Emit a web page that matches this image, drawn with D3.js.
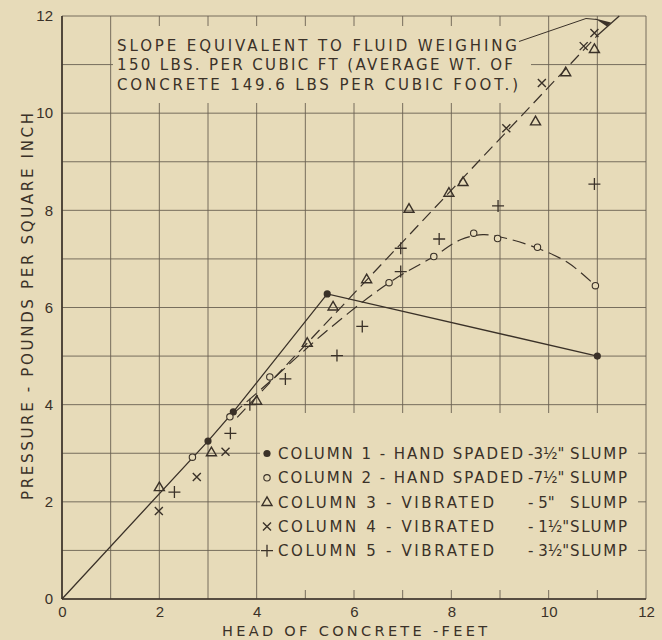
<!DOCTYPE html>
<html>
<head>
<meta charset="utf-8">
<script src="https://cdn.jsdelivr.net/npm/d3@7"></script>
<style>
  html, body { margin: 0; padding: 0; background: #e7dbb9; }
  svg { display: block; }
</style>
</head>
<body>
<svg id="chart" width="662" height="640"></svg>
<script>
// ---------------- DATA ----------------
const xTicks = [0, 2, 4, 6, 8, 10, 12];
const yTicks = [0, 2, 4, 6, 8, 10, 12];
const xTitle = "HEAD OF CONCRETE -FEET";
const yTitle = "PRESSURE - POUNDS PER SQUARE INCH";

// Column 1 - hand spaded 3 1/2" slump (filled dots)
const col1Head     = [3.0, 3.52, 5.45, 11.0];
const col1Pressure = [3.25, 3.85, 6.28, 5.0];
// Column 1 connecting line (solid, starts at origin)
const col1LineHead     = [0, 3.0, 3.52, 5.45, 11.0];
const col1LinePressure = [0, 3.25, 3.85, 6.28, 5.0];

// Column 2 - hand spaded 7 1/2" slump (open circles)
const col2Head     = [2.68, 3.45, 4.27, 6.72, 7.64, 8.46, 8.95, 9.77, 10.96];
const col2Pressure = [2.92, 3.75, 4.57, 6.51, 7.05, 7.53, 7.42, 7.24, 6.45];
// Column 2 fitted curve (dashed)
const col2CurveHead     = [3.5, 4.3, 5.5, 6.72, 7.64, 8.2, 8.65, 9.1, 9.77, 10.4, 10.96];
const col2CurvePressure = [3.8, 4.5, 5.57, 6.51, 7.05, 7.4, 7.5, 7.43, 7.22, 6.92, 6.45];

// Column 3 - vibrated 5" slump (triangles)
const col3Head     = [2.0, 3.07, 4.0, 5.04, 5.57, 6.26, 7.13, 7.95, 8.24, 9.73, 10.35, 10.94];
const col3Pressure = [2.3, 3.02, 4.08, 5.27, 6.02, 6.58, 8.03, 8.36, 8.58, 9.83, 10.84, 11.32];

// Column 4 - vibrated 1 1/2" slump (crosses)
const col4Head     = [1.99, 2.77, 3.36, 9.13, 9.86, 10.72, 10.94];
const col4Pressure = [1.81, 2.51, 3.03, 9.69, 10.62, 11.38, 11.65];

// Column 5 - vibrated 3 1/2" slump (plus signs)
const col5Head     = [2.31, 3.46, 3.86, 4.59, 5.65, 6.17, 6.96, 6.96, 7.75, 8.96, 10.94];
const col5Pressure = [2.2, 3.41, 4.0, 4.53, 5.01, 5.61, 6.74, 7.22, 7.41, 8.09, 8.54];

// Fluid-slope line for columns 3 & 4 (dashed part, then solid end)
const fitDashHead      = [3.6, 11.0];
const fitDashPressure  = [3.74, 11.6];
const fitSolidHead     = [11.0, 11.45];
const fitSolidPressure = [11.6, 12.0];

const annotationLines = [
  "SLOPE EQUIVALENT TO FLUID WEIGHING",
  "150 LBS. PER CUBIC FT (AVERAGE WT. OF",
  "CONCRETE  149.6 LBS PER CUBIC FOOT.)"
];
const legendSymbols = ["dot", "circle", "triangle", "cross", "plus"];
const legendNames = [
  "COLUMN 1 - HAND SPADED",
  "COLUMN 2 - HAND SPADED",
  "COLUMN 3 - VIBRATED",
  "COLUMN 4 - VIBRATED",
  "COLUMN 5 - VIBRATED"
];
const legendSlumps = ["-3½\"", "-7½\"", "- 5\"", "- 1½\"", "- 3½\""];
const legendSlumpWord = "SLUMP";

// ---------------- DRAWING ----------------
const BG = "#e7dbb9", INK = "#3a3128", GRID = "#6a6152";
const FONT = "'DejaVu Sans', sans-serif";
const svg = d3.select("#chart");
const x = d3.scaleLinear().domain([0, 12]).range([62, 646]);
const y = d3.scaleLinear().domain([0, 12]).range([599, 16]);
const zip = (a, b) => a.map((v, i) => [v, b[i]]);

svg.append("rect").attr("width", 662).attr("height", 640).attr("fill", BG);

// grid
const grid = svg.append("g").attr("stroke", GRID).attr("stroke-width", 0.9);
d3.range(0, 13).forEach(i => {
  grid.append("line").attr("x1", x(i)).attr("x2", x(i)).attr("y1", y(0)).attr("y2", y(12));
  grid.append("line").attr("y1", y(i)).attr("y2", y(i)).attr("x1", x(0)).attr("x2", x(12));
});
// paper patches behind annotation and legend (grid interrupted there)
svg.append("rect").attr("x", 113).attr("y", 26).attr("width", 418).attr("height", 77).attr("fill", BG);
svg.append("rect").attr("x", 260).attr("y", 413).attr("width", 378).attr("height", 177).attr("fill", BG);

// frame (left and bottom heavier)
svg.append("line").attr("x1", x(0)).attr("x2", x(0)).attr("y1", y(0)).attr("y2", y(12))
  .attr("stroke", INK).attr("stroke-width", 1.6);
svg.append("line").attr("x1", x(0)).attr("x2", x(12)).attr("y1", y(0)).attr("y2", y(0))
  .attr("stroke", INK).attr("stroke-width", 1.6);

// axes
const xAxis = svg.append("g").attr("transform", `translate(0,${y(0)})`)
  .call(d3.axisBottom(x).tickValues(xTicks).tickSize(0).tickPadding(7).tickFormat(d3.format("d")));
const yAxis = svg.append("g").attr("transform", `translate(${x(0)},0)`)
  .call(d3.axisLeft(y).tickValues(yTicks).tickSize(0).tickPadding(9).tickFormat(d3.format("d")));
[xAxis, yAxis].forEach(a => {
  a.select(".domain").remove();
  a.selectAll("text").attr("font-family", "'Liberation Sans', sans-serif")
    .attr("font-size", 15).attr("fill", INK);
});

// axis titles
svg.append("text").attr("x", 222).attr("y", 635.5).attr("textLength", 265).attr("lengthAdjust", "spacing")
  .attr("font-family", FONT).attr("font-size", 14.5).attr("fill", INK).text(xTitle);
svg.append("text").attr("transform", "translate(33,500) rotate(-90)")
  .attr("x", 0).attr("y", 0).attr("textLength", 387).attr("lengthAdjust", "spacing")
  .attr("font-family", FONT).attr("font-size", 15).attr("fill", INK).text(yTitle);

// lines
const line = d3.line().x(d => x(d[0])).y(d => y(d[1]));
const curve = d3.line().x(d => x(d[0])).y(d => y(d[1])).curve(d3.curveCatmullRom.alpha(0.5));
svg.append("path").attr("d", line(zip(col1LineHead, col1LinePressure)))
  .attr("fill", "none").attr("stroke", INK).attr("stroke-width", 1.3);
svg.append("path").attr("d", line(zip(fitDashHead, fitDashPressure)))
  .attr("fill", "none").attr("stroke", INK).attr("stroke-width", 1.2).attr("stroke-dasharray", "12,6");
svg.append("path").attr("d", line(zip(fitSolidHead, fitSolidPressure)))
  .attr("fill", "none").attr("stroke", INK).attr("stroke-width", 1.3);
svg.append("path").attr("d", curve(zip(col2CurveHead, col2CurvePressure)))
  .attr("fill", "none").attr("stroke", INK).attr("stroke-width", 1.2).attr("stroke-dasharray", "13,6");

// markers
function drawSymbol(g, type, cx, cy) {
  if (type === "dot") {
    g.append("circle").attr("cx", cx).attr("cy", cy).attr("r", 3.6).attr("fill", INK);
  } else if (type === "circle") {
    g.append("circle").attr("cx", cx).attr("cy", cy).attr("r", 3.2)
      .attr("fill", BG).attr("stroke", INK).attr("stroke-width", 1.1);
  } else if (type === "triangle") {
    g.append("path").attr("d", `M${cx},${cy - 5.2}L${cx + 5},${cy + 3.4}L${cx - 5},${cy + 3.4}Z`)
      .attr("fill", "none").attr("stroke", INK).attr("stroke-width", 1.4);
  } else if (type === "cross") {
    const s = 4;
    g.append("path").attr("d", `M${cx - s},${cy - s}L${cx + s},${cy + s}M${cx - s},${cy + s}L${cx + s},${cy - s}`)
      .attr("stroke", INK).attr("stroke-width", 1.4);
  } else if (type === "plus") {
    const s = 6;
    g.append("path").attr("d", `M${cx - s},${cy}L${cx + s},${cy}M${cx},${cy - s}L${cx},${cy + s}`)
      .attr("stroke", INK).attr("stroke-width", 1.3);
  }
}
const marks = svg.append("g");
const seriesList = [
  ["dot", col1Head, col1Pressure],
  ["circle", col2Head, col2Pressure],
  ["triangle", col3Head, col3Pressure],
  ["cross", col4Head, col4Pressure],
  ["plus", col5Head, col5Pressure]
];
seriesList.forEach(([t, hx, py]) => hx.forEach((h, i) => drawSymbol(marks, t, x(h), y(py[i]))));

// annotation
const ann = svg.append("g").attr("font-family", FONT).attr("font-size", 15).attr("fill", INK);
const annLens = [400, 396, 401];
annotationLines.forEach((t, i) => {
  ann.append("text").attr("x", 117).attr("y", 51 + i * 19.3)
    .attr("textLength", annLens[i]).attr("lengthAdjust", "spacing").text(t);
});
// leader with arrowhead
svg.append("path").attr("d", "M519,41.5L586,18.5L597,19.5")
  .attr("fill", "none").attr("stroke", INK).attr("stroke-width", 1);
svg.append("path").attr("d", "M595,18.5L611,22.5L607,26.5Z").attr("fill", INK);

// legend
const leg = svg.append("g").attr("font-family", FONT).attr("font-size", 15).attr("fill", INK);
legendNames.forEach((name, i) => {
  const cy = 453.5 + i * 24.3;
  drawSymbol(leg, legendSymbols[i], 267, cy);
  leg.append("text").attr("x", 278).attr("y", cy + 5.5)
    .attr("textLength", i < 2 ? 245 : 216).attr("lengthAdjust", "spacing").text(name);
  leg.append("text").attr("x", 528).attr("y", cy + 5.5).text(legendSlumps[i]);
  leg.append("text").attr("x", 570).attr("y", cy + 5.5)
    .attr("textLength", 57).attr("lengthAdjust", "spacing").text(legendSlumpWord);
});
</script>
</body>
</html>
